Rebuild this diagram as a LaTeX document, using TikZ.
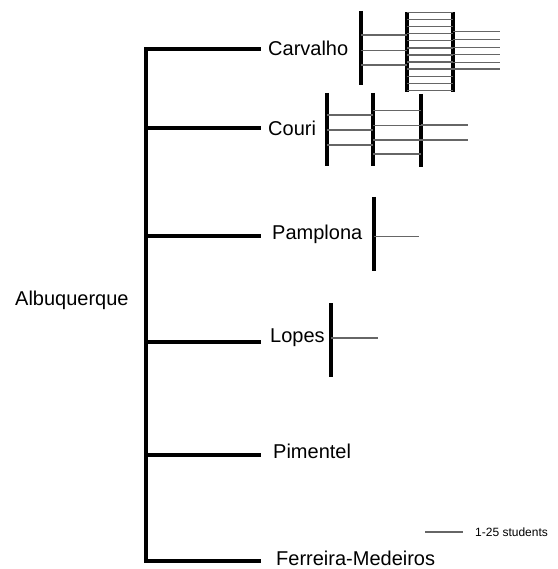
\documentclass[tikz,border=0pt]{standalone}
\usepackage{fontspec}
\setmainfont{Liberation Sans}
\begin{document}
\begin{tikzpicture}[x=1pt,y=-1pt,
  tree/.style={line width=3.2pt,line cap=rect},
  bar/.style={line width=3.4pt},
  rung/.style={line width=1.2pt,black!60},
  lbl/.style={anchor=west,inner xsep=9pt,inner ysep=0pt,font=\fontsize{20}{23}\selectfont},
  legendtxt/.style={anchor=west,inner sep=0pt,font=\fontsize{12}{14}\selectfont}]
\useasboundingbox (0,0) rectangle (557,569);
% labels
\node[anchor=west,inner sep=0pt,font=\fontsize{20}{23}\selectfont] (alb) at (15,300) {Albuquerque};
\node[lbl] (carv) at (259,48) {Carvalho};
\node[lbl] (cour) at (259,128) {Couri};
\node[lbl] (pamp) at (263,234) {Pamplona};
\node[lbl] (lope) at (261,338) {Lopes};
\node[lbl] (pime) at (264,451) {Pimentel};
\node[lbl] (ferr) at (267,558) {Ferreira-Medeiros};
% tree
\coordinate (top) at (146,49);
\coordinate (bot) at (146,561);
\draw[tree] (top) -- (bot);
\coordinate (j2) at (146,128);
\coordinate (j3) at (146,236);
\coordinate (j4) at (146,342);
\coordinate (j5) at (146,455);
\draw[tree] (top) -- (top -| carv.west);
\draw[tree] (j2) -- (259,128);
\draw[tree] (j3) -- (259,236);
\draw[tree] (j4) -- (259,342);
\draw[tree] (j5) -- (259,455);
\draw[tree] (bot) -- (259,561);
% Carvalho bars
\draw[bar] (361,11) -- (361,85);
\draw[bar] (407,12) -- (407,92);
\draw[bar] (453,12) -- (453,92);
\foreach \y in {35,50.5,65} \draw[rung] (361,\y) -- (407,\y);
\foreach \k in {0,...,11} \draw[rung] (407,{12.7+\k*7.05}) -- (453,{12.7+\k*7.05});
\foreach \y in {31.7,39.3,47.3,54.3,62.3,69} \draw[rung] (453,\y) -- (500,\y);
% Couri bars
\draw[bar] (327,93) -- (327,166);
\draw[bar] (373,93) -- (373,166);
\draw[bar] (421,94) -- (421,167);
\foreach \y in {115,130,145} \draw[rung] (327,\y) -- (373,\y);
\foreach \y in {110.7,125.7,140,154} \draw[rung] (373,\y) -- (421,\y);
\foreach \y in {125,140} \draw[rung] (421,\y) -- (468,\y);
% Pamplona
\draw[bar] (374,197) -- (374,271);
\draw[rung] (374,236.7) -- (419,236.7);
% Lopes
\draw[bar] (331,303) -- (331,377);
\draw[rung] (331,338) -- (378,338);
% legend
\coordinate (lg1) at (425,532);
\node[legendtxt] (lgt) at (475,532) {1-25 students};
\draw[rung] (lg1) -- (463,532);
\end{tikzpicture}
\end{document}
